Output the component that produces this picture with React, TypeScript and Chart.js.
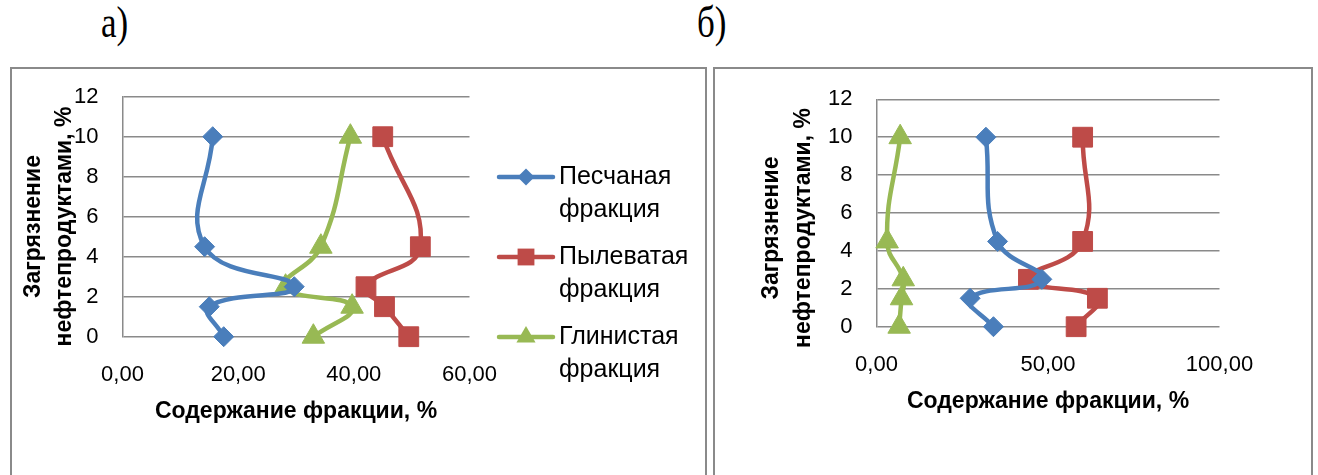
import React, { useEffect, useRef } from 'react';
import { Chart, registerables } from 'chart.js';

Chart.register(...registerables);

// Contamination levels (y values), %
const contamination = [0, 1.5, 2.5, 4.5, 10];
// Panel а)
const sandA = [17.5, 15.0, 29.7, 14.2, 15.6];
const siltA = [49.5, 45.3, 42.1, 51.5, 45.0];
const clayA = [33.0, 39.7, 28.2, 34.3, 39.4];
// Panel б)
const sandB = [34.1, 27.3, 48.2, 35.3, 31.9];
const siltB = [58.2, 64.4, 44.3, 60.1, 60.1];
const clayB = [6.6, 7.3, 7.8, 3.1, 6.9];

const seriesNames = [
  ['Песчаная', 'фракция'],
  ['Пылеватая', 'фракция'],
  ['Глинистая', 'фракция'],
];
const yTitleLines = ['Загрязнение', 'нефтепродуктами, %'];
const xTitleText = 'Содержание фракции, %';
const panelLabels = ['а)', 'б)'];
const yMax = 12;
const yStep = 2;
const xMaxA = 60;
const xStepA = 20;
const xMaxB = 100;
const xStepB = 50;

const COLORS = ['#4A7EBB', '#BE4B48', '#98B954'];
const STYLES = ['rectRot', 'rect', 'triangle'];
const RADII = [10, 14, 13];
const SANS = "'Liberation Sans', Arial, sans-serif";
const GRID = '#8a8a8a';

function pts(xs: number[]) {
  return xs.map((x, i) => ({ x, y: contamination[i] }));
}

function drawMarker(ctx: CanvasRenderingContext2D, style: string, x: number, y: number, r: number) {
  ctx.beginPath();
  if (style === 'rectRot') {
    ctx.moveTo(x - r, y);
    ctx.lineTo(x, y - r);
    ctx.lineTo(x + r, y);
    ctx.lineTo(x, y + r);
  } else if (style === 'rect') {
    const s = r * Math.SQRT1_2;
    ctx.rect(x - s, y - s, 2 * s, 2 * s);
  } else {
    ctx.moveTo(x, y - r);
    ctx.lineTo(x + r * Math.sin((2 * Math.PI) / 3), y + r / 2);
    ctx.lineTo(x - r * Math.sin((2 * Math.PI) / 3), y + r / 2);
  }
  ctx.closePath();
  ctx.fill();
}

type PanelCfg = {
  series: number[][];
  xMax: number;
  xStep: number;
  yAxisWidth: number;
  xAxisHeight: number;
  padTop: number;
  padRight: number;
  xTitlePadBottom: number;
  yTitleX: number[];
  yTitleY: number;
  legend?: { x0: number; x1: number; textX: number; ys: number[]; lineGap: number };
};

function makeChart(canvas: HTMLCanvasElement, cfg: PanelCfg) {
  const yTitlePlugin = {
    id: 'yTitleCustom',
    afterDraw(chart: any) {
      const ctx = chart.ctx as CanvasRenderingContext2D;
      ctx.save();
      ctx.font = `bold 23px ${SANS}`;
      ctx.fillStyle = '#000';
      ctx.textAlign = 'center';
      ctx.textBaseline = 'middle';
      yTitleLines.forEach((line, i) => {
        ctx.save();
        ctx.translate(cfg.yTitleX[i], cfg.yTitleY);
        ctx.rotate(-Math.PI / 2);
        ctx.fillText(line, 0, 0);
        ctx.restore();
      });
      ctx.restore();
    },
  };
  const legendPlugin = {
    id: 'legendCustom',
    afterDraw(chart: any) {
      if (!cfg.legend) return;
      const lg = cfg.legend;
      const ctx = chart.ctx as CanvasRenderingContext2D;
      ctx.save();
      seriesNames.forEach((lines, i) => {
        const y = lg.ys[i];
        ctx.strokeStyle = COLORS[i];
        ctx.lineWidth = 4.5;
        ctx.lineCap = 'round';
        ctx.beginPath();
        ctx.moveTo(lg.x0, y);
        ctx.lineTo(lg.x1, y);
        ctx.stroke();
        ctx.fillStyle = COLORS[i];
        drawMarker(ctx, STYLES[i], (lg.x0 + lg.x1) / 2, y, RADII[i] * 0.85);
        ctx.fillStyle = '#000';
        ctx.font = `25px ${SANS}`;
        ctx.textAlign = 'left';
        ctx.textBaseline = 'middle';
        lines.forEach((t, j) => ctx.fillText(t, lg.textX, y + j * lg.lineGap));
      });
      ctx.restore();
    },
  };

  return new Chart(canvas, {
    type: 'scatter',
    data: {
      datasets: cfg.series.map((s, i) => ({
        label: seriesNames[i].join(' '),
        data: pts(s),
        showLine: true,
        borderColor: COLORS[i],
        backgroundColor: COLORS[i],
        borderWidth: 4.5,
        tension: 0.45,
        pointStyle: STYLES[i] as any,
        pointRadius: RADII[i],
        pointHoverRadius: RADII[i],
        pointBorderWidth: 1,
        pointBorderColor: COLORS[i],
        pointBackgroundColor: COLORS[i],
        clip: false as any,
      })),
    },
    options: {
      animation: false,
      responsive: false,
      maintainAspectRatio: false,
      events: [],
      layout: { padding: { left: 0, top: cfg.padTop, right: cfg.padRight, bottom: 0 } },
      plugins: { legend: { display: false }, tooltip: { enabled: false }, title: { display: false } },
      scales: {
        x: {
          type: 'linear',
          min: 0,
          max: cfg.xMax,
          grid: { display: false, drawTicks: false },
          border: { display: false },
          ticks: {
            stepSize: cfg.xStep,
            color: '#000',
            font: { family: SANS, size: 22 },
            padding: 25,
            maxRotation: 0,
            callback: (v: any) => Number(v).toFixed(2).replace('.', ','),
          },
          title: {
            display: true,
            text: xTitleText,
            color: '#000',
            font: { family: SANS, size: 23, weight: 'bold' },
            padding: { top: 0, bottom: cfg.xTitlePadBottom },
          },
          afterFit: (scale: any) => {
            scale.height = cfg.xAxisHeight;
          },
        },
        y: {
          type: 'linear',
          min: 0,
          max: yMax,
          grid: { color: GRID, lineWidth: 1.5, drawTicks: false },
          border: { display: true, color: GRID, width: 1.5 },
          ticks: {
            stepSize: yStep,
            color: '#000',
            font: { family: SANS, size: 22 },
            padding: 24,
          },
          afterFit: (scale: any) => {
            scale.width = cfg.yAxisWidth;
            scale.paddingTop = 12;
            scale.paddingBottom = 12;
          },
        },
      },
    },
    plugins: [yTitlePlugin, legendPlugin],
  } as any);
}

export default function App() {
  const refA = useRef<HTMLCanvasElement>(null);
  const refB = useRef<HTMLCanvasElement>(null);

  useEffect(() => {
    document.body.style.margin = '0';
    const a = makeChart(refA.current!, {
      series: [sandA, siltA, clayA],
      xMax: xMaxA,
      xStep: xStepA,
      yAxisWidth: 111.5,
      xAxisHeight: 133.3,
      padTop: 26.7,
      padRight: 231.5,
      xTitlePadBottom: 44.5,
      yTitleX: [22.5, 53.7],
      yTitleY: 156.5,
      legend: { x0: 488, x1: 542, textX: 548, ys: [107, 187, 267], lineGap: 33 },
    });
    const b = makeChart(refB.current!, {
      series: [sandB, siltB, clayB],
      xMax: xMaxB,
      xStep: xStepB,
      yAxisWidth: 160.5,
      xAxisHeight: 143.3,
      padTop: 29.3,
      padRight: 91.5,
      xTitlePadBottom: 54.5,
      yTitleX: [55.4, 88],
      yTitleY: 158,
    });
    return () => {
      a.destroy();
      b.destroy();
    };
  }, []);

  const labelStyle: React.CSSProperties = {
    position: 'absolute',
    top: 2,
    fontFamily: "'Liberation Serif', 'Times New Roman', serif",
    fontSize: 35,
    lineHeight: '34px',
    transform: 'scaleY(1.25)',
    transformOrigin: 'top left',
    color: '#000',
    whiteSpace: 'nowrap',
  };
  const boxStyle: React.CSSProperties = {
    position: 'absolute',
    top: 67,
    height: 440,
    boxSizing: 'border-box',
    border: '2px solid #8a8a8a',
    borderBottom: 'none',
  };

  return (
    <div style={{ position: 'fixed', left: 0, top: 0, width: 1318, height: 475, overflow: 'hidden', background: '#fff' }}>
      <div style={{ ...labelStyle, left: 101 }}>{panelLabels[0]}</div>
      <div style={{ ...labelStyle, left: 697 }}>{panelLabels[1]}</div>
      <div style={{ ...boxStyle, left: 10, width: 697 }} />
      <div style={{ ...boxStyle, left: 713, width: 600 }} />
      <canvas ref={refA} width={690} height={400} style={{ position: 'absolute', left: 11, top: 70, width: 690, height: 400 }} />
      <canvas ref={refB} width={595} height={400} style={{ position: 'absolute', left: 716, top: 70, width: 595, height: 400 }} />
    </div>
  );
}
